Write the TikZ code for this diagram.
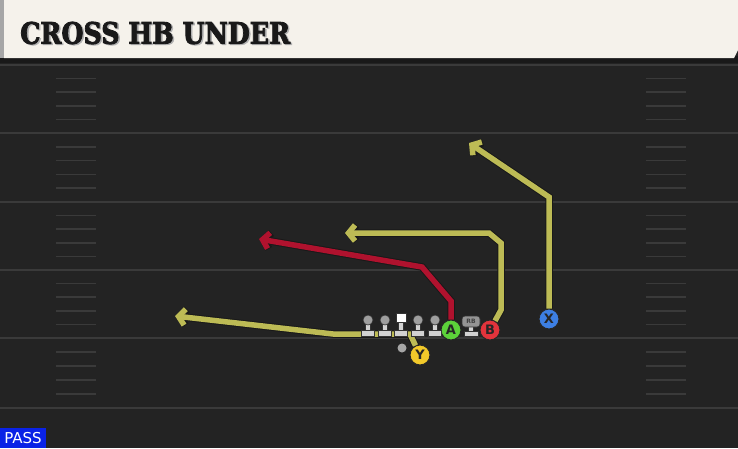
\documentclass[tikz,border=0pt]{standalone}
\usepackage{fontspec}
\setmainfont{DejaVu Sans}
\newfontfamily\titlefont{DejaVu Serif}[BoldFeatures={FakeBold=3}]
\usetikzlibrary{arrows.meta, positioning}
\definecolor{fieldgray}{HTML}{232323}
\definecolor{yardgray}{HTML}{3A3A3A}
\definecolor{headerwhite}{HTML}{F5F2EB}
\definecolor{routeyellow}{HTML}{BDBB55}
\definecolor{routered}{HTML}{B0122E}
\definecolor{passblue}{HTML}{0A22E6}
\definecolor{playergreen}{HTML}{5CD23A}
\definecolor{playerred}{HTML}{E2343C}
\definecolor{playeryellow}{HTML}{F2C92A}
\definecolor{playerblue}{HTML}{3D7FE3}
\definecolor{headgray}{HTML}{9E9E9E}
\definecolor{basegray}{HTML}{D2D2D2}

\tikzset{
  player/.style={circle, draw=black!85, line width=1pt, minimum size=20pt, inner sep=0pt,
    font=\bfseries\fontsize{13}{13}\selectfont, text=black!85},
  route/.style={line width=5.5pt, line join=miter, -{Straight Barb[length=6.5pt, width=16pt]},
    preaction={draw=black!90, line width=7.5pt, -{Straight Barb[length=6.5pt, width=16pt]}}},
  yardline/.style={draw=yardgray, line width=2pt},
  hashline/.style={draw=yardgray, line width=1.5pt},
  lineman/.style={draw=black!80, line width=0.6pt}
}

\begin{document}
\begin{tikzpicture}[x=1pt, y=-1pt]
    \useasboundingbox (0,0) rectangle (738,448);
    % Background
    \fill[fieldgray] (0,0) rectangle (738,448);
    \fill[black!90] (0,56) rectangle (738,63);

    % Header
    \fill[gray!70] (0,0) rectangle (4,58);
    \fill[headerwhite] (4,0) -- (738,0) -- (738,50) -- (734,58) -- (4,58) -- cycle;
    \node[text=gray!60, inner sep=0pt, anchor=west] (titleshadow) at (21.5,34)
      {\resizebox{270pt}{22pt}{\titlefont\bfseries CROSS HB UNDER}};
    \node[text=black!90, inner sep=0pt, anchor=west] (title) at (20,33)
      {\resizebox{270pt}{22pt}{\titlefont\bfseries CROSS HB UNDER}};

    % Yard lines and hashes
    \foreach \y in {65, 133, 202, 270, 338, 408}
      \draw[yardline] (0,\y) -- (738,\y);
    \foreach \t/\b in {65/133, 133/202, 202/270, 270/338, 338/408}
      \foreach \k in {1,...,4} {
        \draw[hashline] (56, {\t+(\b-\t)*\k/5}) -- (96, {\t+(\b-\t)*\k/5});
        \draw[hashline] (646, {\t+(\b-\t)*\k/5}) -- (686, {\t+(\b-\t)*\k/5});
      }

    % Skill players
    \node[player, fill=playergreen] (A) at (451,330) {A};
    \node[player, fill=playerred] (B) at (490,330) {B};
    \node[player, fill=playeryellow] (Y) at (420,355) {Y};
    \node[player, fill=playerblue] (X) at (549,319) {X};
    \fill[gray!70] (402,348) circle (4.5) coordinate (qb);

    % Routes
    \coordinate (y1) at (410,334);
    \coordinate (y2) at (333,334);
    \coordinate (y3) at (175,316);
    \draw[route, routeyellow] (Y) -- (y1) -- (y2) -- (y3);

    \coordinate (a1) at (451,301);
    \coordinate (a2) at (422,267);
    \coordinate (a3) at (259,239);
    \draw[route, routered] (A) -- (a1) -- (a2) -- (a3);

    \coordinate (b1) at (501,310);
    \coordinate (b2) at (501,243);
    \coordinate (b3) at (489,233);
    \coordinate (b4) at (345,233);
    \draw[route, routeyellow] (B) -- (b1) -- (b2) -- (b3) -- (b4);

    \coordinate (x1) at (549,197);
    \coordinate (x2) at (469,143);
    \draw[route, routeyellow] (X) -- (x1) -- (x2);

    % Line
    \foreach \x in {368, 385, 418, 435} {
      \filldraw[lineman, fill=basegray] (\x-2.5,322) rectangle (\x+2.5,331);
      \filldraw[lineman, fill=headgray] (\x,320) circle (5);
      \filldraw[lineman, fill=basegray] (\x-6.5,330) rectangle (\x+6.5,336);
    }
    \filldraw[lineman, fill=basegray] (398.5,320) rectangle (403.5,331);
    \filldraw[lineman, fill=white] (396,313) rectangle (406,322.5);
    \filldraw[lineman, fill=basegray] (394.5,330) rectangle (407.5,336);

    % Running back
    \filldraw[lineman, fill=basegray] (468.5,324) rectangle (473.5,332);
    \filldraw[lineman, fill=headgray!110, rounded corners=3pt] (462,316) rectangle (480,327);
    \node[font=\bfseries\fontsize{6}{6}\selectfont, text=black!75, inner sep=0pt] (rb) at (471,321.5) {RB};
    \filldraw[lineman, fill=basegray] (464,331) rectangle (478,336);

    % Play type
    \fill[passblue] (0,428) rectangle (46,448);
    \node[text=white, inner sep=0pt, font=\fontsize{15}{15}\selectfont] (pass) at (23,438.5) {PASS};
\end{tikzpicture}
\end{document}
